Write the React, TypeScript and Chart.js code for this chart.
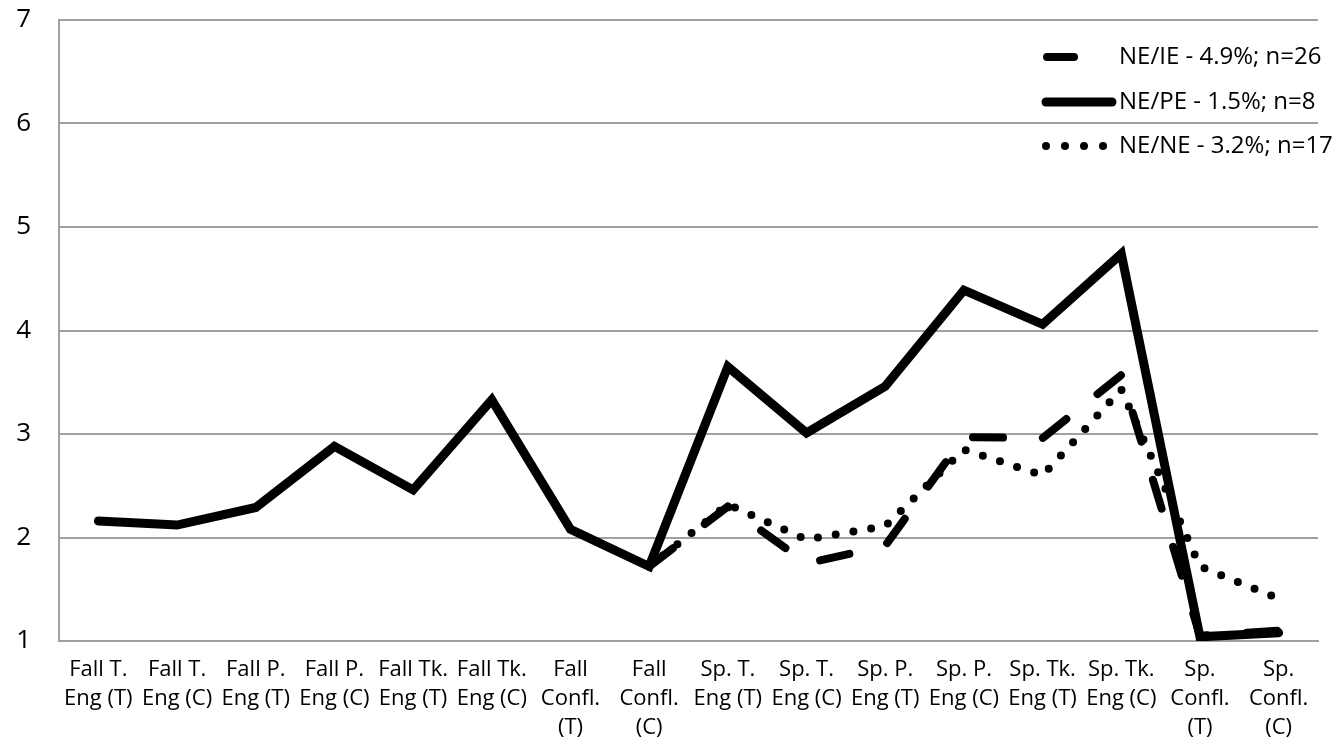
import React, { useEffect, useRef } from 'react';
import { Chart, registerables } from 'chart.js';

Chart.register(...registerables);

// category labels, one array per wrapped label
const categories: string[][] = [
  ['Fall T.', 'Eng (T)'],
  ['Fall T.', 'Eng (C)'],
  ['Fall P.', 'Eng (T)'],
  ['Fall P.', 'Eng (C)'],
  ['Fall Tk.', 'Eng (T)'],
  ['Fall Tk.', 'Eng (C)'],
  ['Fall', 'Confl.', '(T)'],
  ['Fall', 'Confl.', '(C)'],
  ['Sp. T.', 'Eng (T)'],
  ['Sp. T.', 'Eng (C)'],
  ['Sp. P.', 'Eng (T)'],
  ['Sp. P.', 'Eng (C)'],
  ['Sp. Tk.', 'Eng (T)'],
  ['Sp. Tk.', 'Eng (C)'],
  ['Sp.', 'Confl.', '(T)'],
  ['Sp.', 'Confl.', '(C)'],
];

const neIe = [null, null, null, null, null, null, null, 1.72, 2.3, 1.75, 1.92, 2.97, 2.96, 3.57, 1.05, 1.1];
const nePe = [2.16, 2.12, 2.29, 2.88, 2.46, 3.33, 2.08, 1.72, 3.65, 3.01, 3.46, 4.39, 4.06, 4.74, 1.04, 1.08];
const neNe = [null, null, null, null, null, null, null, 1.72, 2.32, 1.98, 2.11, 2.85, 2.6, 3.43, 1.72, 1.41];

const seriesLabels = ['NE/IE - 4.9%; n=26', 'NE/PE - 1.5%; n=8', 'NE/NE - 3.2%; n=17'];
const yTicks = [1, 2, 3, 4, 5, 6, 7];

const FONT = '"Open Sans", sans-serif';

// legend drawn inside the plot area, top right
const legendInside = {
  id: 'legendInside',
  afterDraw(chart: any) {
    const ctx = chart.ctx;
    const rows = [57, 102, 146];
    chart.data.datasets.forEach((ds: any, i: number) => {
      const y = rows[i];
      ctx.save();
      ctx.strokeStyle = '#000';
      ctx.lineWidth = ds.borderWidth;
      ctx.lineCap = 'round';
      ctx.beginPath();
      if (i === 0) {
        ctx.moveTo(1047, y);
        ctx.lineTo(1074, y);
      } else if (i === 1) {
        ctx.moveTo(1046, y);
        ctx.lineTo(1112, y);
      } else {
        ctx.setLineDash([0, 19]);
        ctx.moveTo(1046, y);
        ctx.lineTo(1110, y);
      }
      ctx.stroke();
      ctx.setLineDash([]);
      ctx.fillStyle = '#000';
      ctx.font = `24px ${FONT}`;
      ctx.textBaseline = 'middle';
      ctx.textAlign = 'left';
      ctx.fillText(ds.label, 1119, y);
      ctx.restore();
    });
  },
};

const App: React.FC = () => {
  const canvasRef = useRef<HTMLCanvasElement | null>(null);

  useEffect(() => {
    if (!canvasRef.current) return;
    const ctx = canvasRef.current.getContext('2d');
    if (!ctx) return;

    const chart = new Chart(ctx, {
      type: 'line',
      data: {
        labels: categories,
        datasets: [
          {
            label: seriesLabels[0],
            data: neIe,
            borderColor: '#000',
            borderWidth: 8,
            borderDash: [30, 40],
            borderCapStyle: 'round',
            borderJoinStyle: 'round',
            pointRadius: 0,
            tension: 0,
            order: 3,
          },
          {
            label: seriesLabels[1],
            data: nePe,
            borderColor: '#000',
            borderWidth: 9,
            borderCapStyle: 'round',
            borderJoinStyle: 'miter',
            pointRadius: 0,
            tension: 0,
            order: 2,
          },
          {
            label: seriesLabels[2],
            data: neNe,
            borderColor: '#000',
            borderWidth: 8,
            borderDash: [0, 18],
            borderCapStyle: 'round',
            borderJoinStyle: 'round',
            pointRadius: 0,
            tension: 0,
            order: 1,
          },
        ],
      },
      options: {
        animation: false,
        responsive: true,
        maintainAspectRatio: false,
        layout: { padding: { top: 20, right: 23, left: 0, bottom: 0 } },
        plugins: {
          legend: { display: false },
          tooltip: { enabled: false },
        },
        scales: {
          x: {
            offset: true,
            grid: { display: false, drawTicks: false },
            border: { display: true, color: '#a0a0a0', width: 2 },
            ticks: {
              color: '#000',
              autoSkip: false,
              maxRotation: 0,
              minRotation: 0,
              padding: 14,
              font: { family: FONT, size: 22, lineHeight: 1.32 },
            },
            afterFit(scale: any) {
              scale.height = 114;
              scale.paddingLeft = 0;
              scale.paddingRight = 0;
            },
          },
          y: {
            min: 1,
            max: 7,
            grid: { color: '#a0a0a0', lineWidth: 2, drawTicks: false },
            border: { display: true, color: '#a0a0a0', width: 2 },
            ticks: {
              color: '#000',
              stepSize: 1,
              padding: 28,
              font: { family: FONT, size: 26 },
              callback: (v: any) => (yTicks.includes(Number(v)) ? String(v) : ''),
            },
            afterFit(scale: any) {
              scale.width = 59;
              scale.paddingTop = 0;
              scale.paddingBottom = 0;
            },
          },
        },
      },
      plugins: [legendInside],
    });

    return () => {
      chart.destroy();
    };
  }, []);

  return (
    <div style={{ position: 'fixed', left: 0, top: 0, width: 1341, height: 755, background: '#fff' }}>
      <canvas ref={canvasRef} />
    </div>
  );
};

export default App;
